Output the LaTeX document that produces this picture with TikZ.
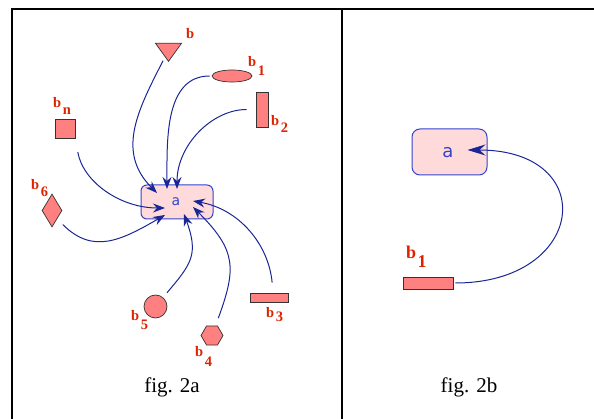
\documentclass[tikz,border=0pt]{standalone}
\usepackage{fontspec}
\setmainfont{Liberation Serif}
\newfontfamily\asans{DejaVu Sans}
\usetikzlibrary{arrows.meta,shapes.geometric}
\definecolor{shpfill}{RGB}{255,128,128}
\definecolor{lblred}{RGB}{221,34,0}
\definecolor{apink}{RGB}{255,218,218}
\definecolor{ablue}{RGB}{51,68,204}
\definecolor{arrblue}{RGB}{26,38,150}
\tikzstyle{shp}=[draw=black!80, fill=shpfill, line width=.7pt, inner sep=0]
\tikzstyle{lbl}=[text=lblred, font=\fontsize{14.5}{14.5}\selectfont\bfseries, inner sep=0, anchor=base west]
\tikzstyle{anode}=[draw=ablue, fill=apink, line width=1pt, text=ablue, inner sep=0]
\tikzstyle{arr}=[draw=arrblue, line width=1pt, -{Stealth[length=12pt,width=9pt,inset=4pt]}]
\tikzstyle{frame}=[line width=2.2pt]
\newcommand{\bsub}[2][8pt]{b\kern1.5pt\raisebox{-#1}{#2}}

\begin{document}
\begin{tikzpicture}[x=1pt, y=-1pt]
\useasboundingbox (0,0) rectangle (594,419);
\draw[frame] (12,419)--(12,9)--(594,9);
\draw[frame] (342,9)--(342,419);
% fig. 2a
\draw (177,202) node[anode, rounded corners=6pt, minimum width=72pt, minimum height=34pt] (a) {};
\draw (176,202) node[text=ablue, font=\asans\fontsize{14}{14}\selectfont] (at) {a};
%
\draw (168.5,50) node[shp, isosceles triangle, isosceles triangle stretches, shape border rotate=270, minimum width=26pt, minimum height=18pt] (b) {};
\draw (232,76) node[shp, ellipse, minimum width=40pt, minimum height=12pt] (b1) {};
\draw (262,109.5) node[shp, rectangle, minimum width=12pt, minimum height=35pt] (b2) {};
\draw (269,297.5) node[shp, rectangle, minimum width=38pt, minimum height=9pt] (b3) {};
\draw (212,335.5) node[shp, regular polygon, regular polygon sides=6, minimum size=22pt] (b4) {};
\draw (155.5,306.5) node[shp, circle, minimum size=23pt] (b5) {};
\draw (52,210.5) node[shp, diamond, minimum width=20pt, minimum height=33pt] (b6) {};
\draw (65,128.5) node[shp, rectangle, minimum width=20pt, minimum height=19pt] (bn) {};
%
\draw (186,39) node[lbl] (lb) {b};
\draw (248,67) node[lbl] (lb1) {\bsub[9pt]{1}};
\draw (271,126) node[lbl] (lb2) {\bsub[7pt]{2}};
\draw (266,318) node[lbl] (lb3) {\bsub[4pt]{3}};
\draw (195,356) node[lbl] (lb4) {\bsub[10pt]{4}};
\draw (131,321) node[lbl] (lb5) {\bsub[9pt]{5}};
\draw (31,190) node[lbl] (lb6) {\bsub[7pt]{6}};
\draw (53,108) node[lbl] (lbn) {\bsub[7pt]{n}};
%
\draw[arr, shorten <=4pt] (b) to[out=-117, in=135, looseness=1.1] ([shift={(-20,-9)}]a.center);
\draw[arr, shorten <=2pt] (b1) to[out=180, in=90] ([shift={(-10,-13)}]a.center);
\draw[arr, shorten <=9pt] (b2) to[out=180, in=90] ([shift={(0,-13)}]a.center);
\draw[arr, shorten <=10pt] ([xshift=4pt]b3.north) to[out=95, in=-10] ([shift={(16,-1)}]a.center);
\draw[arr, shorten <=8pt] (b4) to[out=70, in=-45, looseness=1.3] ([shift={(16,5)}]a.center);
\draw[arr, shorten <=6pt] (b5) to[out=50, in=-70, looseness=1.3] ([shift={(7,12)}]a.center);
\draw[arr, shorten <=8pt] (b6.south east) to[out=-45, in=210, looseness=1.2] ([shift={(-12,13)}]a.center);
\draw[arr, shorten <=14pt] (bn.south east) to[out=-80, in=180] ([shift={(-12,6)}]a.center);
%
\draw (172,392) node[anchor=base, font=\fontsize{21}{21}\selectfont] (capa) {fig. 2a};
% fig. 2b
\draw (449.5,152) node[anode, rounded corners=8pt, minimum width=75pt, minimum height=46pt] (ra) {};
\draw (448,153) node[text=ablue, font=\asans\fontsize{18}{18}\selectfont] (rat) {a};
\draw (428,283) node[shp, rectangle, minimum width=50pt, minimum height=12pt] (rb1) {};
\draw (406,259) node[lbl, font=\fontsize{18}{18}\selectfont\bfseries] (lrb1) {\bsub[9pt]{1}};
\draw[arr, -{Stealth[length=18pt,width=11pt,inset=6pt]}, shorten <=2pt] (rb1) to[out=0, in=0, looseness=2.55] ([shift={(18,-2)}]ra.center);
\draw (469,392) node[anchor=base, font=\fontsize{21}{21}\selectfont] (capb) {fig. 2b};
\end{tikzpicture}
\end{document}
